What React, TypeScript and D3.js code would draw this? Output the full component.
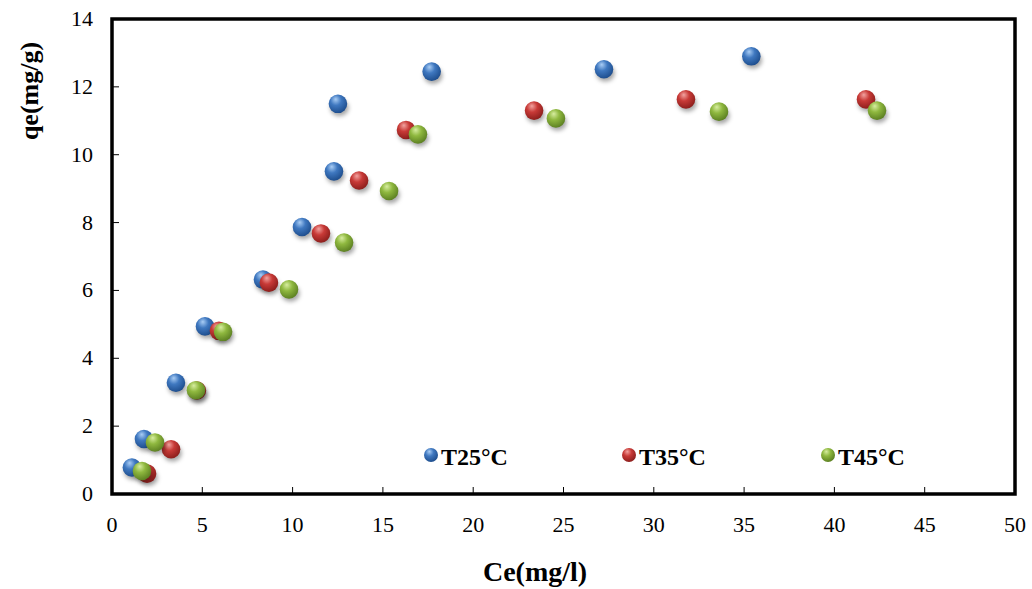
import React from "react";
import * as d3 from "d3";

const seriesNames = ["T25°C", "T35°C", "T45°C"];
const seriesColors = ["#3f78c0", "#c83a37", "#8fb83f"];
const seriesDark = ["#1f4f8f", "#8e1f1d", "#5e8223"];
const seriesLight = ["#a9cdf5", "#f2a3a0", "#d7eda0"];

const t25X = [1.1, 1.77, 3.54, 5.15, 8.36, 10.52, 12.29, 12.51, 17.7, 27.24, 35.4];
const t25Y = [0.78, 1.62, 3.28, 4.94, 6.32, 7.87, 9.51, 11.5, 12.45, 12.52, 12.9];
const t35X = [1.94, 3.27, 4.7, 5.92, 8.69, 11.57, 13.68, 16.28, 23.37, 31.78, 41.75];
const t35Y = [0.6, 1.32, 3.05, 4.81, 6.23, 7.68, 9.24, 10.73, 11.3, 11.63, 11.63];
const t45X = [1.66, 2.38, 4.65, 6.15, 9.8, 12.85, 15.34, 16.94, 24.58, 33.61, 42.36];
const t45Y = [0.68, 1.52, 3.06, 4.78, 6.03, 7.41, 8.93, 10.6, 11.07, 11.27, 11.3];

const xTicks = [0, 5, 10, 15, 20, 25, 30, 35, 40, 45, 50];
const yTicks = [0, 2, 4, 6, 8, 10, 12, 14];

const W = 1032;
const H = 589;
const left = 112;
const right = 1015;
const top = 19;
const bottom = 494;

const font = "Liberation Serif";

export default function App() {
  const x = d3.scaleLinear().domain([0, 50]).range([left, right]);
  const y = d3.scaleLinear().domain([0, 14]).range([bottom, top]);
  const series = [
    { xs: t25X, ys: t25Y },
    { xs: t35X, ys: t35Y },
    { xs: t45X, ys: t45Y },
  ];
  const legendX = [431, 629, 828];
  const legendY = 455;
  const r = 9.3;
  const ts = { fontFamily: font };

  return (
    <svg width={W} height={H} style={{ position: "absolute", left: 0, top: 0, background: "#fff" }}>
      <defs>
        {seriesColors.map((c, i) => (
          <radialGradient key={i} id={`g${i}`} cx="0.4" cy="0.35" r="0.65" fx="0.38" fy="0.25">
            <stop offset="0%" stopColor={seriesLight[i]} />
            <stop offset="45%" stopColor={c} />
            <stop offset="100%" stopColor={seriesDark[i]} />
          </radialGradient>
        ))}
        <filter id="shadow" x="-50%" y="-50%" width="200%" height="200%">
          <feGaussianBlur stdDeviation="2" />
        </filter>
      </defs>
      <rect x={0} y={0} width={W} height={H} fill="#fff" />

      {xTicks.slice(1, -1).map((t) => (
        <line key={`xt${t}`} x1={x(t)} x2={x(t)} y1={bottom} y2={bottom - 7} stroke="#000" strokeWidth={1} />
      ))}
      {yTicks.slice(1, -1).map((t) => (
        <line key={`yt${t}`} x1={left} x2={left + 7} y1={y(t)} y2={y(t)} stroke="#000" strokeWidth={1} />
      ))}

      {series.map((s, si) =>
        s.xs.map((xv, j) => (
          <g key={`p${si}-${j}`}>
            <ellipse cx={x(xv) + 1.5} cy={y(s.ys[j]) + 4} rx={r} ry={r * 0.9} fill="rgba(0,0,0,0.35)" filter="url(#shadow)" />
            <circle cx={x(xv)} cy={y(s.ys[j])} r={r} fill={`url(#g${si})`} />
          </g>
        ))
      )}

      <rect x={left} y={top} width={right - left} height={bottom - top} fill="none" stroke="#000" strokeWidth={3.5} />

      {xTicks.map((t) => (
        <text key={`xl${t}`} x={x(t)} y={532} textAnchor="middle" fontSize={22} fill="#000" style={ts}>{t}</text>
      ))}
      {yTicks.map((t) => (
        <text key={`yl${t}`} x={93} y={y(t) + 7} textAnchor="end" fontSize={22} fill="#000" style={ts}>{t}</text>
      ))}

      <text x={535} y={581} textAnchor="middle" fontSize={28} fontWeight="bold" fill="#000" style={ts}>Ce(mg/l)</text>
      <text transform={`translate(38,91) rotate(-90)`} textAnchor="middle" fontSize={26} fontWeight="bold" fill="#000" style={ts}>qe(mg/g)</text>

      {seriesNames.map((n, i) => (
        <g key={`lg${i}`}>
          <circle cx={legendX[i]} cy={legendY} r={7} fill={`url(#g${i})`} />
          <text x={legendX[i] + 10} y={465} fontSize={24} fontWeight="bold" fill="#000" style={ts}>{n}</text>
        </g>
      ))}
    </svg>
  );
}
